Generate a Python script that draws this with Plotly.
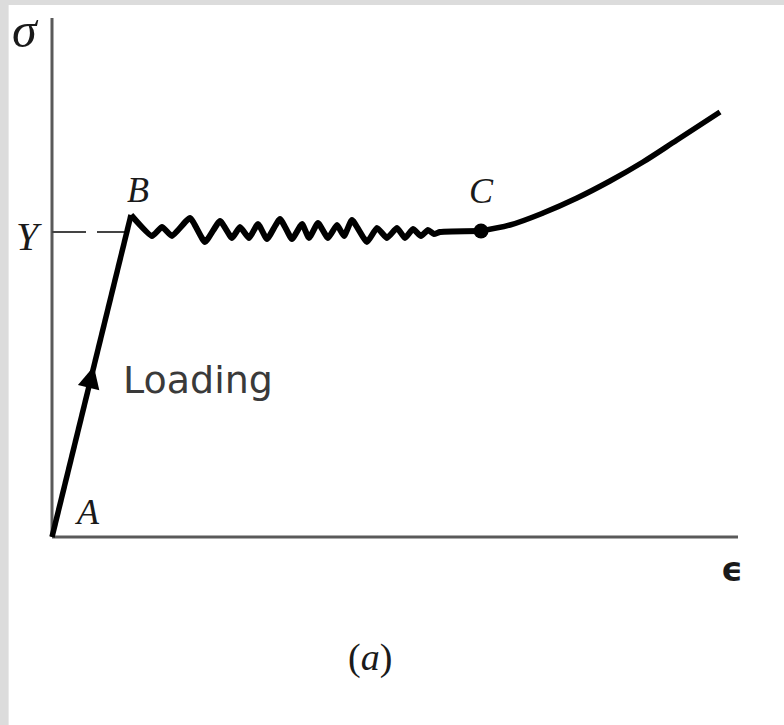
import plotly.graph_objects as go

# Stress-strain curve of a mild steel specimen (arbitrary units)
# Elastic loading branch A -> B
load_eps = [0, 79]
load_sig = [0, 322]

# Serrated yield plateau B -> C
plateau_eps = [79, 100, 110, 120, 138, 153, 168, 180, 188, 197, 206, 215, 228, 240,
               250, 257, 266, 276, 285, 292, 300, 315, 325, 335, 345, 353, 361, 369,
               376, 382, 388, 429]
plateau_sig = [322, 301, 310, 301, 319, 295, 316, 299, 310, 299, 313, 298, 318, 298,
               313, 299, 314, 299, 312, 301, 317, 295, 309, 299, 309, 299, 308, 301,
               307, 303, 305, 306]

# Strain-hardening branch from C
hard_eps = [429, 458, 491, 525, 558, 591, 625, 668]
hard_sig = [306, 312, 324, 339, 356, 375, 397, 425]

yield_stress = 305
eps_axis_len = 686
sig_axis_len = 519

point_labels = ["A", "B", "C"]
point_eps = [0, 79, 429]
point_sig = [0, 322, 306]

serif = "Liberation Serif"
fig = go.Figure()

# axes drawn as lines from the origin
fig.add_trace(go.Scatter(x=[0, eps_axis_len], y=[0, 0], mode="lines",
                         line=dict(color="#5a5a5a", width=3), hoverinfo="skip"))
fig.add_trace(go.Scatter(x=[0, 0], y=[0, sig_axis_len], mode="lines",
                         line=dict(color="#5a5a5a", width=3), hoverinfo="skip"))

# yield stress guide
fig.add_trace(go.Scatter(x=[0, load_eps[1] * yield_stress / load_sig[1]],
                         y=[yield_stress, yield_stress], mode="lines",
                         line=dict(color="#444444", width=2, dash="34px,11px"),
                         hoverinfo="skip"))

curve = dict(color="black", width=5.5)
fig.add_trace(go.Scatter(x=load_eps, y=load_sig, mode="lines", line=curve))
fig.add_trace(go.Scatter(x=plateau_eps, y=plateau_sig, mode="lines",
                         line=dict(curve, width=6, shape="spline", smoothing=0.45)))
fig.add_trace(go.Scatter(x=hard_eps, y=hard_sig, mode="lines",
                         line=dict(curve, shape="spline", smoothing=1)))
fig.add_trace(go.Scatter(x=[point_eps[2]], y=[point_sig[2]], mode="markers",
                         marker=dict(color="black", size=15)))

# loading direction arrow on the elastic branch
t_tip, t_tail = 0.53, 0.40
fig.add_annotation(x=load_eps[1] * t_tip, y=load_sig[1] * t_tip,
                   ax=load_eps[1] * t_tail, ay=load_sig[1] * t_tail,
                   xref="x", yref="y", axref="x", ayref="y", text="",
                   showarrow=True, arrowhead=2, arrowsize=1.1, arrowwidth=4,
                   arrowcolor="black")

lab = dict(family=serif, size=36, color="#1a1a1a")
lab_font = dict(lab, style="italic")
fig.add_annotation(x=point_eps[0] + 35, y=point_sig[0] + 25, text=point_labels[0],
                   showarrow=False, font=lab_font)
fig.add_annotation(x=point_eps[1] + 7, y=point_sig[1] + 25, text=point_labels[1],
                   showarrow=False, font=lab_font)
fig.add_annotation(x=point_eps[2], y=point_sig[2] + 40, text=point_labels[2],
                   showarrow=False, font=lab_font)
fig.add_annotation(x=-23, y=yield_stress - 4, text="Y", showarrow=False,
                   font=dict(lab_font, size=40))
fig.add_annotation(x=-27, y=sig_axis_len - 12, text="σ", showarrow=False,
                   font=dict(lab_font, size=50))
fig.add_annotation(x=680, y=-32, text="ϵ", showarrow=False,
                   font=dict(family="DejaVu Sans", size=34, color="#1a1a1a", weight="bold"))
fig.add_annotation(x=69, y=157, text="Loading", showarrow=False, xanchor="left",
                   font=dict(family="DejaVu Sans", size=38, color="#3a3a3a"))
fig.add_annotation(x=318, y=-120, text="(<i>a</i>)", showarrow=False,
                   font=dict(family=serif, size=38, color="#1a1a1a"))

# textured paper edge
fig.add_shape(type="rect", xref="paper", yref="paper", x0=0, x1=1, y0=0.993, y1=1,
              fillcolor="#dcdcdc", line_width=0, layer="below")
fig.add_shape(type="rect", xref="paper", yref="paper", x0=0, x1=0.011, y0=0, y1=1,
              fillcolor="#dcdcdc", line_width=0, layer="below")

fig.update_layout(
    width=784, height=725, margin=dict(l=0, r=0, t=0, b=0),
    paper_bgcolor="white", plot_bgcolor="white", showlegend=False,
    xaxis=dict(range=[-52, 732], visible=False, fixedrange=True),
    yaxis=dict(range=[-188, 537], visible=False, fixedrange=True),
)
fig.write_html("out.html", config={"displayModeBar": False})
